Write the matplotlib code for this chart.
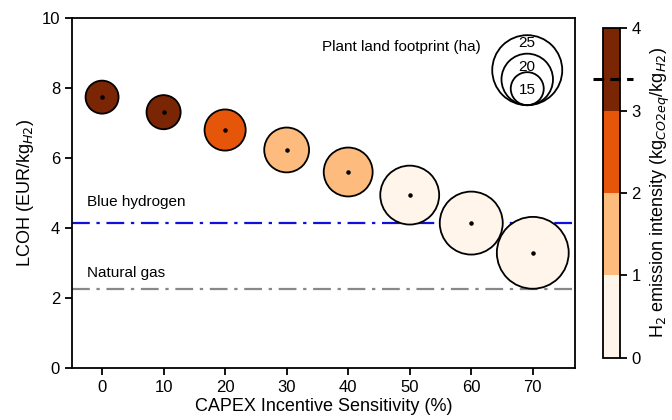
import numpy as np
import matplotlib
matplotlib.use('Agg')
import matplotlib.pyplot as plt
from matplotlib.colors import ListedColormap, BoundaryNorm

plt.rcParams['font.family'] = ['Liberation Sans', 'DejaVu Sans']

# data
capex = [0, 10, 20, 30, 40, 50, 60, 70]
lcoh = [7.74, 7.31, 6.80, 6.23, 5.60, 4.94, 4.14, 3.29]
emission = [3.7, 3.5, 2.6, 1.8, 1.5, 0.9, 0.6, 0.4]
land = [15.0, 15.3, 17.2, 18.2, 19.3, 22.0, 23.1, 25.5]
legend_land = [25, 20, 15]
blue_h2 = 4.13
natural_gas = 2.27
threshold = 3.38

DPI = 100

def marker_size(ha):
    # circle diameter in px grows linearly with footprint
    d_px = 3.7 * np.asarray(ha, dtype=float) - 22.5
    return (d_px * 72 / DPI) ** 2

cmap = ListedColormap(['#fff5eb', '#fdbb7e', '#e6560a', '#7a2503'])
norm = BoundaryNorm([0, 1, 2, 3, 4], cmap.N)

fig = plt.figure(figsize=(6.72, 4.2), dpi=DPI)
ax = fig.add_axes([0.107, 0.124, 0.749, 0.833])
cax = fig.add_axes([0.897, 0.148, 0.0253, 0.785])

ax.axhline(blue_h2, color='#1010dd', ls=(0, (8, 3, 1.5, 3)), lw=1.6, zorder=1)
ax.axhline(natural_gas, color='#888888', ls=(0, (8, 3, 1.5, 3)), lw=1.6, zorder=1)
ax.text(-2.4, blue_h2 + 0.4, 'Blue hydrogen', fontsize=11, va='bottom')
ax.text(-2.4, natural_gas + 0.25, 'Natural gas', fontsize=11, va='bottom')

sc = ax.scatter(capex, lcoh, s=marker_size(land), c=emission, cmap=cmap, norm=norm,
                edgecolors='black', linewidths=1.3, zorder=3)
ax.scatter(capex, lcoh, s=5, color='black', zorder=4)

ax.set_xlim(-4.9, 76.9)
ax.set_ylim(0, 10)
ax.set_xticks(capex)
ax.set_yticks([0, 2, 4, 6, 8, 10])
ax.tick_params(labelsize=12, width=1.3, length=5)
for sp in ax.spines.values():
    sp.set_linewidth(1.3)
ax.set_xlabel('CAPEX Incentive Sensitivity (%)', fontsize=13, labelpad=2)
ax.set_ylabel('LCOH (EUR/kg$_{H2}$)', fontsize=13)

# size legend: nested circles sharing a bottom point
ppu = ax.get_position().height * fig.get_figheight() * DPI / 10.0
leg_x = 69.1
leg_bottom = 7.51
for ha in legend_land:
    d = 3.7 * ha - 22.5
    ax.scatter([leg_x], [leg_bottom + d / 2 / ppu], s=marker_size([ha]),
               facecolors='none', edgecolors='black', linewidths=1.3,
               clip_on=False, zorder=5)
label_y = {25: 9.29, 20: 8.6, 15: 7.94}
for ha in legend_land:
    ax.text(leg_x, label_y[ha], str(ha), ha='center', va='center', fontsize=11)
ax.text(61.5, 9.17, 'Plant land footprint (ha)', ha='right', va='center', fontsize=11)

cb = fig.colorbar(sc, cax=cax, ticks=[0, 1, 2, 3, 4])
cb.outline.set_linewidth(1.3)
cax.tick_params(labelsize=12, width=1.3, length=5)
cb.set_label('H$_2$ emission intensity (kg$_{CO2eq}$/kg$_{H2}$)', fontsize=13, labelpad=6)
cax.plot([-0.6, 1.8], [threshold, threshold], color='black', ls=(0, (3.5, 2)),
         lw=2.2, clip_on=False, transform=cax.get_yaxis_transform())

fig.savefig('out.png', dpi=DPI)
